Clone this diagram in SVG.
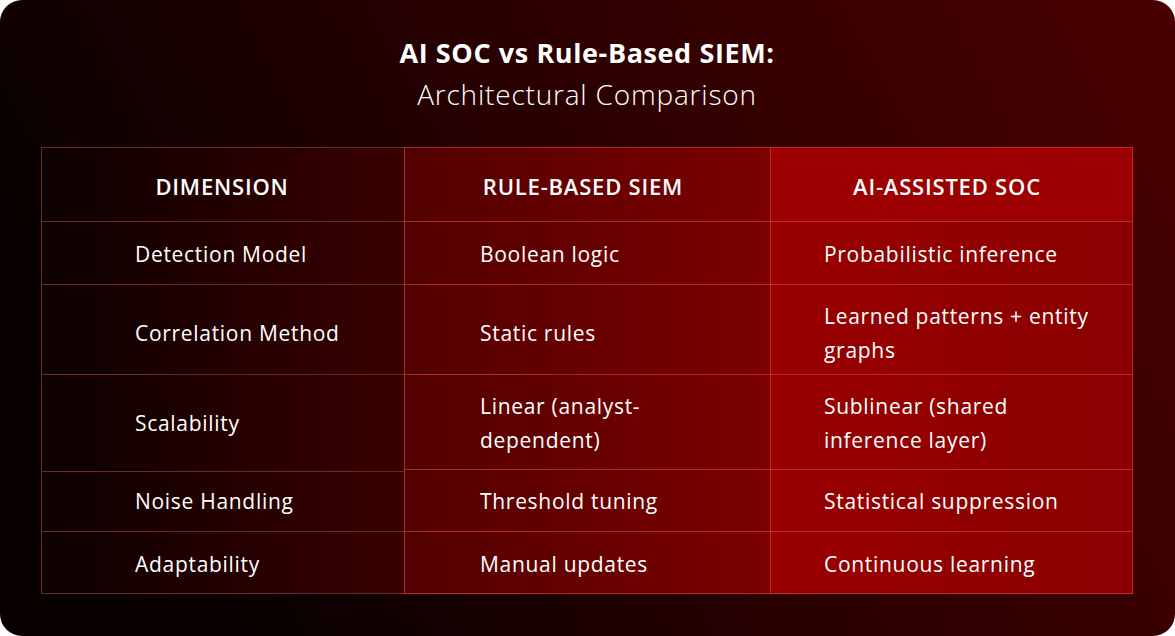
<svg xmlns="http://www.w3.org/2000/svg" width="1175" height="636" viewBox="0 0 1175 636">
<defs>
<linearGradient id="bg" x1="0" y1="0.3" x2="1" y2="0">
<stop offset="0" stop-color="#080000"/><stop offset="0.45" stop-color="#2a0000"/><stop offset="1" stop-color="#4a0000"/>
</linearGradient>
<linearGradient id="c1" x1="0" y1="0" x2="1" y2="0">
<stop offset="0" stop-color="#0c0000"/><stop offset="1" stop-color="#3a0000"/>
</linearGradient>
<linearGradient id="c2" x1="0" y1="0" x2="1" y2="0">
<stop offset="0" stop-color="#520000"/><stop offset="1" stop-color="#7c0000"/>
</linearGradient>
<linearGradient id="c3" x1="0" y1="0" x2="1" y2="0">
<stop offset="0" stop-color="#990000"/><stop offset="1" stop-color="#8a0000"/>
</linearGradient>
<style>
text{font-family:"Open Sans","Liberation Sans",sans-serif;fill:#fff}
.h{font-size:22px;font-weight:600;text-anchor:middle;letter-spacing:0.8px}
.b{font-size:21px;letter-spacing:0.7px}
.g{stroke:#c83a3a;stroke-width:1;fill:none;opacity:0.75}
.g1{stroke:#6a2a2a;stroke-width:1;fill:none}
</style>
</defs>
<rect x="0" y="0" width="1175" height="636" rx="22" fill="url(#bg)"/>
<text x="587" y="63" font-size="27" font-weight="700" text-anchor="middle" letter-spacing="0.6">AI SOC vs Rule-Based SIEM:</text>
<text x="587" y="105" font-size="28" font-weight="300" text-anchor="middle" letter-spacing="0.8">Architectural Comparison</text>
<g id="table">
<rect x="41" y="147" width="363" height="447" fill="url(#c1)"/>
<rect x="404" y="147" width="366" height="447" fill="url(#c2)"/>
<rect x="770" y="147" width="363" height="447" fill="url(#c3)"/>
<rect x="770" y="147" width="363" height="74" fill="#9c0000"/>
</g>
<g id="connectors">
<path class="g1" d="M41.5 147.5V593.5H404M41 221.5H404M41 284.5H404M41 374.5H404M41 471.5H404M41 531.5H404M41 147.5H404"/>
<path class="g" d="M404.5 147V594M770.5 147V594M1132.5 147V594M404 147.5H1133M404 221.5H1133M404 284.5H1133M404 374.5H1133M404 469.5H1133M404 531.5H1133M404 593.5H1133"/>
</g>
<g id="header">
<text class="h" x="222" y="195">DIMENSION</text>
<text class="h" x="583" y="195">RULE-BASED SIEM</text>
<text class="h" x="947" y="195">AI-ASSISTED SOC</text>
</g>
<g id="row1"><text class="b" x="135" y="262">Detection Model</text><text class="b" x="480" y="262">Boolean logic</text><text class="b" x="824" y="262">Probabilistic inference</text></g>
<g id="row2"><text class="b" x="135" y="341">Correlation Method</text><text class="b" x="480" y="341">Static rules</text><text class="b" x="824" y="324">Learned patterns + entity</text><text class="b" x="824" y="358">graphs</text></g>
<g id="row3"><text class="b" x="135" y="431">Scalability</text><text class="b" x="480" y="414">Linear (analyst-</text><text class="b" x="480" y="448">dependent)</text><text class="b" x="824" y="414">Sublinear (shared</text><text class="b" x="824" y="448">inference layer)</text></g>
<g id="row4"><text class="b" x="135" y="509">Noise Handling</text><text class="b" x="480" y="509">Threshold tuning</text><text class="b" x="824" y="509">Statistical suppression</text></g>
<g id="row5"><text class="b" x="135" y="572">Adaptability</text><text class="b" x="480" y="572">Manual updates</text><text class="b" x="824" y="572">Continuous learning</text></g>
</svg>
